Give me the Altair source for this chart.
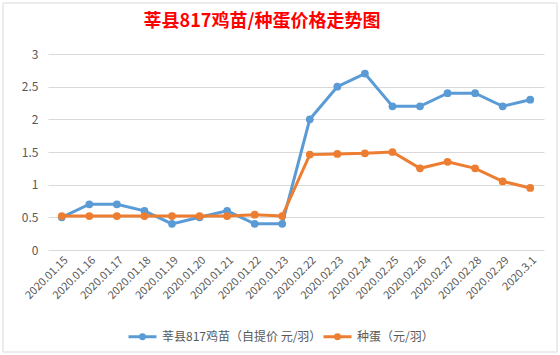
import altair as alt
import pandas as pd

dates = ["2020.01.15", "2020.01.16", "2020.01.17", "2020.01.18", "2020.01.19",
         "2020.01.20", "2020.01.21", "2020.01.22", "2020.01.23", "2020.02.22",
         "2020.02.23", "2020.02.24", "2020.02.25", "2020.02.26", "2020.02.27",
         "2020.02.28", "2020.02.29", "2020.3.1"]
chick = [0.5, 0.7, 0.7, 0.6, 0.4, 0.5, 0.6, 0.4, 0.4, 2.0,
         2.5, 2.7, 2.2, 2.2, 2.4, 2.4, 2.2, 2.3]
egg = [0.52, 0.52, 0.52, 0.52, 0.52, 0.52, 0.52, 0.54, 0.52, 1.46,
       1.47, 1.48, 1.5, 1.25, 1.35, 1.25, 1.05, 0.95]
series = ["莘县817鸡苗（自提价 元/羽）", "种蛋（元/羽）"]
colors = ["#5B9BD5", "#ED7D31"]
title_text = "莘县817鸡苗/种蛋价格走势图"

rows = []
for i, d in enumerate(dates):
    rows.append({"date": d, "series": series[0], "value": chick[i], "order": i})
    rows.append({"date": d, "series": series[1], "value": egg[i], "order": i})
df = pd.DataFrame(rows)

FONT = "Noto Sans CJK SC"
GRAY = "#595959"

sym = "M-1,0L1,0M0.14,0A0.14,0.14,0,1,1,-0.14,0A0.14,0.14,0,1,1,0.14,0Z"

x = alt.X("date:N", sort=dates, title=None,
          scale=alt.Scale(paddingOuter=0.5, paddingInner=0),
          axis=alt.Axis(labelAngle=-45, labelFontSize=11, labelColor=GRAY,
                        labelFont=FONT, ticks=False, domain=False, grid=False,
                        labelPadding=4))
y = alt.Y("value:Q", title=None,
          scale=alt.Scale(domain=[0, 3], nice=False),
          axis=alt.Axis(values=[0, 0.5, 1, 1.5, 2, 2.5, 3], labelFontSize=12,
                        labelColor=GRAY, labelFont=FONT, ticks=False,
                        domain=False, gridColor="#D9D9D9", gridWidth=1,
                        labelPadding=10, labelExpr="datum.value"))
color = alt.Color("series:N", sort=series,
                  scale=alt.Scale(domain=series, range=colors),
                  legend=alt.Legend(title=None, orient="none", direction="horizontal",
                                    legendX=79, legendY=267, symbolType=sym,
                                    symbolSize=784, symbolStrokeWidth=3,
                                    labelFontSize=12, labelColor=GRAY, labelFont=FONT,
                                    columnPadding=-26, labelOffset=4))

lines = alt.Chart(df).mark_line(strokeWidth=3, point=alt.OverlayMarkDef(size=60, filled=True, opacity=1)).encode(
    x=x, y=y, color=color, order="order:Q")

border = alt.Chart(pd.DataFrame({"a": [0]})).mark_rect(
    fill=None, stroke="#D9D9D9", strokeWidth=1, clip=False).encode(
    x=alt.value(-45), x2=alt.value(509), y=alt.value(-51), y2=alt.value(298))

title = alt.Chart(pd.DataFrame({"t": [title_text]})).mark_text(
    font=FONT, fontSize=18, fontWeight="bold", color="#FF0000",
    align="center", baseline="middle", clip=False).encode(
    text="t:N", x=alt.value(214), y=alt.value(-32))

chart = alt.layer(border, lines, title).properties(
    width=496, height=196,
    padding={"left": 48, "top": 54, "right": 16, "bottom": 105},
    autosize=alt.AutoSizeParams(type="none"),
    background="white",
).configure_view(stroke=None)

chart.save("out.html", embed_options={"renderer": "svg", "actions": False})
